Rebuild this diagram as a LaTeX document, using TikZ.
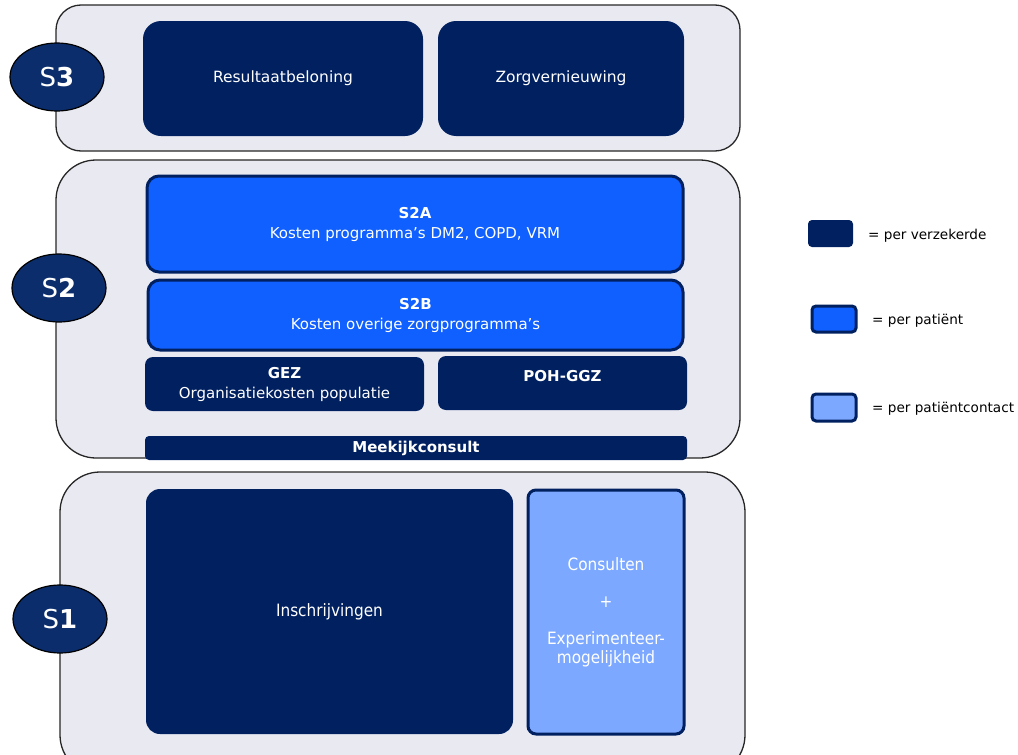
\documentclass[tikz,border=0pt]{standalone}
\usepackage{fontspec}
\setmainfont{DejaVu Sans}
\newfontfamily\condfont{DejaVu Sans Condensed}
\usetikzlibrary{shapes.geometric}
\definecolor{navy}{HTML}{002060}
\definecolor{ellnavy}{HTML}{0B2D6B}
\definecolor{brightblue}{HTML}{105FFF}
\definecolor{lightblue}{HTML}{7CA8FF}
\definecolor{panelgray}{HTML}{E9E9F2}
\tikzset{
  panel/.style={draw=black!85, line width=1.3pt, fill=panelgray, rounded corners=#1},
  lvl/.style={ellipse, draw=black, line width=1.2pt, fill=ellnavy, text=white,
    minimum width=94pt, minimum height=68pt, inner sep=0pt, font=\fontsize{26}{30}\selectfont},
  darkbox/.style={fill=navy, rounded corners=#1, inner sep=0pt, outer sep=0pt, text=white, align=center},
  pbox/.style={draw=navy, line width=3pt, fill=brightblue, rounded corners=12pt, inner sep=0pt, outer sep=0pt, text=white, align=center},
  cbox/.style={draw=navy, line width=3pt, fill=lightblue, rounded corners=8pt, inner sep=0pt, outer sep=0pt, text=white, align=center},
  lbl/.style={text=white, align=center, inner sep=0pt, font=\fontsize{15}{20}\selectfont},
  legtext/.style={anchor=west, inner sep=0pt, font=\fontsize{13.6}{16}\selectfont},
}
\begin{document}
\begin{tikzpicture}[x=1pt,y=-1pt]
\useasboundingbox (0,0) rectangle (1018,755);
% panels
\draw[panel=25pt] (56,5) rectangle (740,151);
\draw[panel=40pt] (56,160) rectangle (740,458);
\draw[panel=40pt] (60,472) rectangle (745,775);
% S3 content
\node[darkbox=18pt, minimum width=280pt, minimum height=115pt, lbl, font=\fontsize{15.5}{20}\selectfont] (res) at (283,78.5) {Resultaatbeloning};
\node[darkbox=18pt, minimum width=246pt, minimum height=115pt, lbl, font=\fontsize{15.5}{20}\selectfont] (zorg) at (561,78.5) {Zorgvernieuwing};
% S2 content
\node[pbox, minimum width=536pt, minimum height=96pt, lbl] (s2a) at (415,224) {\textbf{S2A}\\Kosten programma’s DM2, COPD, VRM};
\node[pbox, minimum width=535pt, minimum height=70pt, lbl] (s2b) at (415.5,315) {\textbf{S2B}\\Kosten overige zorgprogramma’s};
\node[darkbox=8pt, minimum width=279pt, minimum height=54pt, lbl] (gez) at (284.5,384) {\textbf{GEZ}\\Organisatiekosten populatie};
\node[darkbox=8pt, minimum width=249pt, minimum height=54pt] (poh) at (562.5,383) {};
\node[lbl, anchor=base] (pohtxt) at (562.5,381) {\textbf{POH-GGZ}};
\node[darkbox=4pt, minimum width=542pt, minimum height=24pt, lbl, font=\bfseries\fontsize{15}{16}\selectfont] (meek) at (416,448) {Meekijkconsult};
% S1 content
\node[darkbox=14pt, minimum width=367pt, minimum height=245pt, lbl, font=\condfont\fontsize{17}{20}\selectfont] (insch) at (329.5,611.5) {Inschrijvingen};
\node[cbox, minimum width=156pt, minimum height=244pt, lbl, font=\condfont\fontsize{17}{19}\selectfont] (cons) at (606,612) {Consulten\\[18pt]+\\[18pt]Experimenteer-\\mogelijkheid};
% level ellipses
\node[lvl] (s3) at (57,77) {S\textbf{3}};
\node[lvl] (s2) at (59,288) {S\textbf{2}};
\node[lvl] (s1) at (60,619) {S\textbf{1}};
% legend
\node[darkbox=4pt, minimum width=45pt, minimum height=27pt] (leg1) at (830.5,233.5) {};
\node[legtext] (leg1t) at (868,236) {= per verzekerde};
\node[pbox, rounded corners=4pt, minimum width=44pt, minimum height=26pt] (leg2) at (834,319) {};
\node[legtext] (leg2t) at (872,321) {= per patiënt};
\node[cbox, rounded corners=4pt, minimum width=44pt, minimum height=27pt] (leg3) at (834,407.5) {};
\node[legtext] (leg3t) at (872,409) {= per patiëntcontact};
\end{tikzpicture}
\end{document}
